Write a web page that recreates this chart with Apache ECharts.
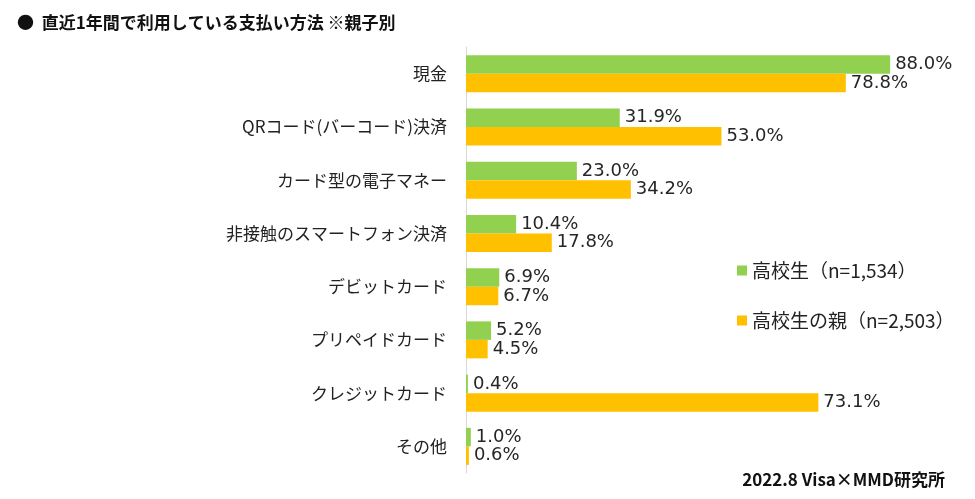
<!DOCTYPE html>
<html>
<head>
<meta charset="utf-8">
<script src="https://cdn.jsdelivr.net/npm/echarts@6/dist/echarts.min.js"></script>
<style>
  html, body { margin: 0; padding: 0; background: #fff; }
  #main { width: 975px; height: 499px; }
</style>
</head>
<body>
<div id="main"></div>
<script>
// 支払い方法（親子別）
let categories = ['現金', 'QRコード(バーコード)決済', 'カード型の電子マネー', '非接触のスマートフォン決済', 'デビットカード', 'プリペイドカード', 'クレジットカード', 'その他'];
let students = [88.0, 31.9, 23.0, 10.4, 6.9, 5.2, 0.4, 1.0];
let parents = [78.8, 53.0, 34.2, 17.8, 6.7, 4.5, 73.1, 0.6];
let seriesNames = ['高校生（n=1,534）', '高校生の親（n=2,503）'];

let jpFont = '"Noto Sans CJK JP", "Noto Sans", sans-serif';
let numFont = '"DejaVu Sans", Verdana, sans-serif';

let myChart = echarts.init(document.getElementById('main'));

function pct(p) {
    return p.value.toFixed(1) + '%';
}

let option = {
    animation: false,
    title: [{
        text: '●  直近1年間で利用している支払い方法 ※親子別',
        left: 12,
        top: 9,
        textStyle: { fontFamily: jpFont, fontSize: 17, fontWeight: 'bold', color: '#111' }
    }, {
        text: '2022.8 Visa×MMD研究所',
        right: 25,
        top: 466,
        textStyle: { fontFamily: jpFont, fontSize: 17, fontWeight: 'bold', color: '#111' }
    }],
    legend: {
        orient: 'vertical',
        left: 732,
        top: 256,
        itemGap: 31,
        itemWidth: 10,
        itemHeight: 10,
        icon: 'rect',
        textStyle: { fontFamily: jpFont, fontSize: 19, color: '#222' },
        data: seriesNames
    },
    grid: {
        left: 466,
        right: 27,
        top: 47,
        bottom: 26,
        containLabel: false
    },
    xAxis: {
        type: 'value',
        min: 0,
        max: 100,
        show: false
    },
    yAxis: {
        type: 'category',
        inverse: true,
        data: categories,
        axisLine: { show: true, lineStyle: { color: '#d9d9d9', width: 1 } },
        axisTick: { show: false },
        axisLabel: { fontFamily: jpFont, fontSize: 17, color: '#222', margin: 19 }
    },
    series: [{
        name: seriesNames[0],
        type: 'bar',
        data: students,
        barWidth: 18.5,
        barGap: '0%',
        itemStyle: { color: '#92d050' },
        label: {
            show: true,
            position: 'right',
            distance: 5,
            formatter: pct,
            fontFamily: numFont,
            fontSize: 18,
            color: '#262626'
        }
    }, {
        name: seriesNames[1],
        type: 'bar',
        data: parents,
        barWidth: 18.5,
        barGap: '0%',
        itemStyle: { color: '#ffc000' },
        label: {
            show: true,
            position: 'right',
            distance: 5,
            formatter: pct,
            fontFamily: numFont,
            fontSize: 18,
            color: '#262626'
        }
    }]
};

myChart.setOption(option);
</script>
</body>
</html>
